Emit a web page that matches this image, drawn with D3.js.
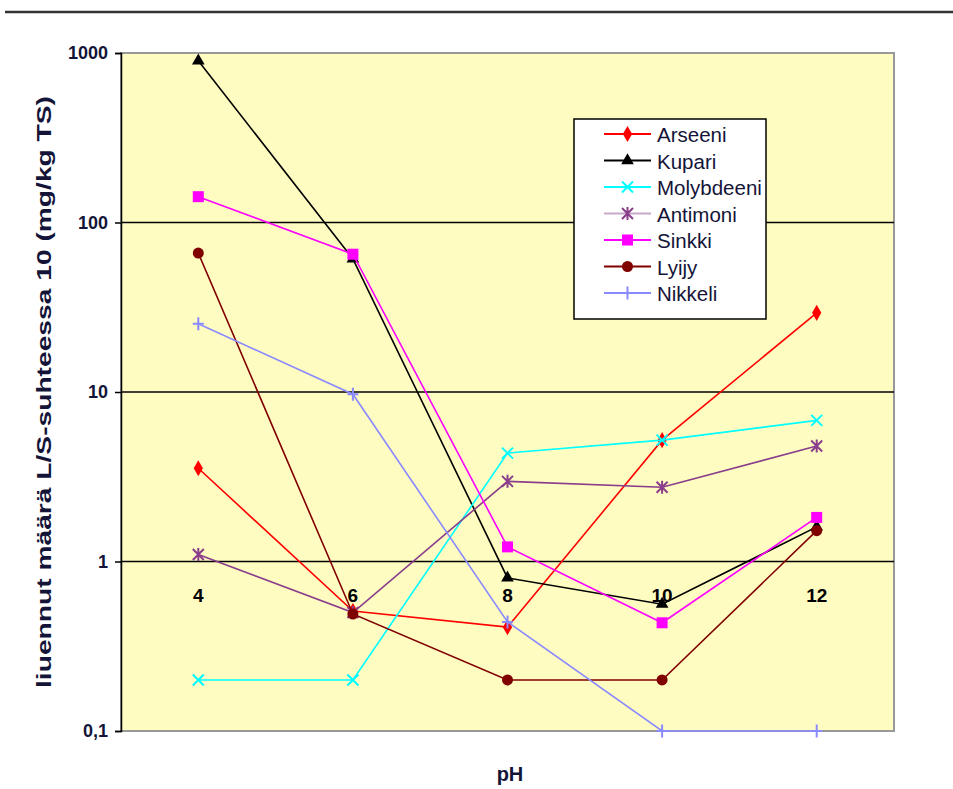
<!DOCTYPE html>
<html>
  <head>
    <meta charset="utf-8" />
    <script src="https://d3js.org/d3.v7.min.js"></script>
    <style>
      body {
        margin: 0;
        background: #fff;
      }
      text {
        font-family: Arial, "Liberation Sans", sans-serif;
      }
    </style>
  </head>
  <body>
    <div id="my_chart"></div>
    <script>
      // pH categories and leaching values (mg/kg TS)
      const categories = ["4", "6", "8", "10", "12"];
      const arseeni = [3.55, 0.51, 0.41, 5.2, 29.3];
      const kupari = [900, 61, 0.8, 0.56, 1.6];
      const molybdeeni = [0.2, 0.2, 4.36, 5.2, 6.8];
      const antimoni = [1.1, 0.5, 2.97, 2.74, 4.8];
      const sinkki = [142, 65, 1.22, 0.435, 1.82];
      const lyijy = [66, 0.49, 0.2, 0.2, 1.52];
      const nikkeli = [25.3, 9.7, 0.44, 0.1, 0.1];
      const yTicks = [0.1, 1, 10, 100, 1000];
      const yTickLabels = ["0,1", "1", "10", "100", "1000"];

      const series = [
        { name: "Arseeni", values: arseeni, color: "#ff0000", legendLine: "#ff0000", marker: "diamond" },
        { name: "Kupari", values: kupari, color: "#000000", legendLine: "#000000", marker: "triangle" },
        { name: "Molybdeeni", values: molybdeeni, color: "#00ffff", legendLine: "#00ffff", marker: "x" },
        { name: "Antimoni", values: antimoni, color: "#8a3d8a", legendLine: "#c8a8c8", marker: "star" },
        { name: "Sinkki", values: sinkki, color: "#ff00ff", legendLine: "#ff00ff", marker: "square" },
        { name: "Lyijy", values: lyijy, color: "#800000", legendLine: "#800000", marker: "circle" },
        { name: "Nikkeli", values: nikkeli, color: "#8a8aff", legendLine: "#8a8aff", marker: "plus" },
      ];

      const W = 953, H = 789;
      const plot = { left: 121, right: 894, top: 53, bottom: 731 };
      const ink = "#141438";

      const svg = d3
        .select("#my_chart")
        .append("svg")
        .attr("width", W)
        .attr("height", H);

      // page rule at the top
      svg.append("line")
        .attr("x1", 5).attr("x2", W).attr("y1", 12).attr("y2", 12)
        .attr("stroke", "#333").attr("stroke-width", 2.5);

      const x = d3.scalePoint().domain(categories).range([plot.left, plot.right]).padding(0.5);
      const y = d3.scaleLog().domain([0.1, 1000]).range([plot.bottom, plot.top]);

      // plot area
      svg.append("rect")
        .attr("x", plot.left).attr("y", plot.top)
        .attr("width", plot.right - plot.left).attr("height", plot.bottom - plot.top)
        .attr("fill", "#fffcc2").attr("stroke", "#999").attr("stroke-width", 2);

      // gridlines
      svg.append("g")
        .selectAll("line")
        .data(yTicks.filter((d) => d > 0.1 && d < 1000))
        .join("line")
        .attr("x1", plot.left).attr("x2", plot.right)
        .attr("y1", (d) => y(d)).attr("y2", (d) => y(d))
        .attr("stroke", "#000").attr("stroke-width", 1.5);

      // y axis
      const yAxis = svg.append("g")
        .attr("transform", `translate(${plot.left},0)`)
        .call(
          d3.axisLeft(y)
            .tickValues(yTicks)
            .tickSize(6)
            .tickPadding(7)
            .tickFormat((d, i) => yTickLabels[i])
        );
      yAxis.select(".domain").attr("stroke", "#000").attr("stroke-width", 1.5);
      yAxis.selectAll(".tick line").attr("stroke", "#000").attr("stroke-width", 1.5);
      yAxis.selectAll(".tick text")
        .style("font-size", "18px").style("font-weight", "bold")
        .style("font-family", "Arial, 'Liberation Sans', sans-serif")
        .attr("fill", ink);

      // category labels sit just under the value 1 line
      svg.append("g")
        .selectAll("text")
        .data(categories)
        .join("text")
        .attr("x", (d) => x(d))
        .attr("y", y(1) + 40)
        .attr("text-anchor", "middle")
        .style("font-size", "19px").style("font-weight", "bold")
        .attr("fill", "#000")
        .text((d) => d);

      // axis titles
      svg.append("text")
        .attr("transform", `translate(51,${392}) rotate(-90)`)
        .attr("text-anchor", "middle")
        .style("font-size", "20px").style("font-weight", "bold")
        .attr("fill", ink)
        .attr("textLength", 592)
        .attr("lengthAdjust", "spacingAndGlyphs")
        .text("liuennut määrä L/S-suhteessa 10 (mg/kg TS)");
      svg.append("text")
        .attr("x", 510)
        .attr("y", 781)
        .attr("text-anchor", "middle")
        .style("font-size", "20px").style("font-weight", "bold")
        .attr("fill", ink)
        .text("pH");

      function drawMarker(g, type, color, cx, cy) {
        if (type === "diamond") {
          g.append("path").attr("d", d3.symbol(d3.symbolDiamond, 75)()).attr("transform", `translate(${cx},${cy})`).attr("fill", color);
        } else if (type === "triangle") {
          g.append("path").attr("d", d3.symbol(d3.symbolTriangle, 70)()).attr("transform", `translate(${cx},${cy})`).attr("fill", color);
        } else if (type === "square") {
          g.append("rect").attr("x", cx - 5.5).attr("y", cy - 5.5).attr("width", 11).attr("height", 11).attr("fill", color);
        } else if (type === "circle") {
          g.append("circle").attr("cx", cx).attr("cy", cy).attr("r", 5.5).attr("fill", color);
        } else {
          const s = 5.5;
          let d = "";
          if (type === "x" || type === "star") {
            d += `M${cx - s},${cy - s}L${cx + s},${cy + s}M${cx - s},${cy + s}L${cx + s},${cy - s}`;
          }
          if (type === "star" || type === "plus") {
            d += `M${cx},${cy - s - 1}L${cx},${cy + s + 1}`;
          }
          if (type === "plus") {
            d += `M${cx - s},${cy}L${cx + s},${cy}`;
          }
          g.append("path").attr("d", d).attr("stroke", color).attr("stroke-width", 2).attr("fill", "none");
        }
      }

      // lines and markers
      const line = d3.line().x((d, i) => x(categories[i])).y((d) => y(d));
      series.forEach((s) => {
        const g = svg.append("g");
        g.append("path")
          .attr("d", line(s.values))
          .attr("fill", "none")
          .attr("stroke", s.color)
          .attr("stroke-width", 1.6);
        s.values.forEach((v, i) => drawMarker(g, s.marker, s.color, x(categories[i]), y(v)));
      });

      // legend
      const lg = svg.append("g").attr("transform", "translate(574,119)");
      lg.append("rect")
        .attr("width", 192).attr("height", 200)
        .attr("fill", "#fff").attr("stroke", "#000").attr("stroke-width", 1.5);
      series.forEach((s, i) => {
        const cy = 15 + i * 26.5;
        lg.append("line")
          .attr("x1", 30).attr("x2", 77).attr("y1", cy).attr("y2", cy)
          .attr("stroke", s.legendLine).attr("stroke-width", 2);
        drawMarker(lg, s.marker, s.color, 53.5, cy);
        lg.append("text")
          .attr("x", 83).attr("y", cy + 8)
          .style("font-size", "20.5px")
          .attr("fill", ink)
          .text(s.name);
      });
    </script>
  </body>
</html>
